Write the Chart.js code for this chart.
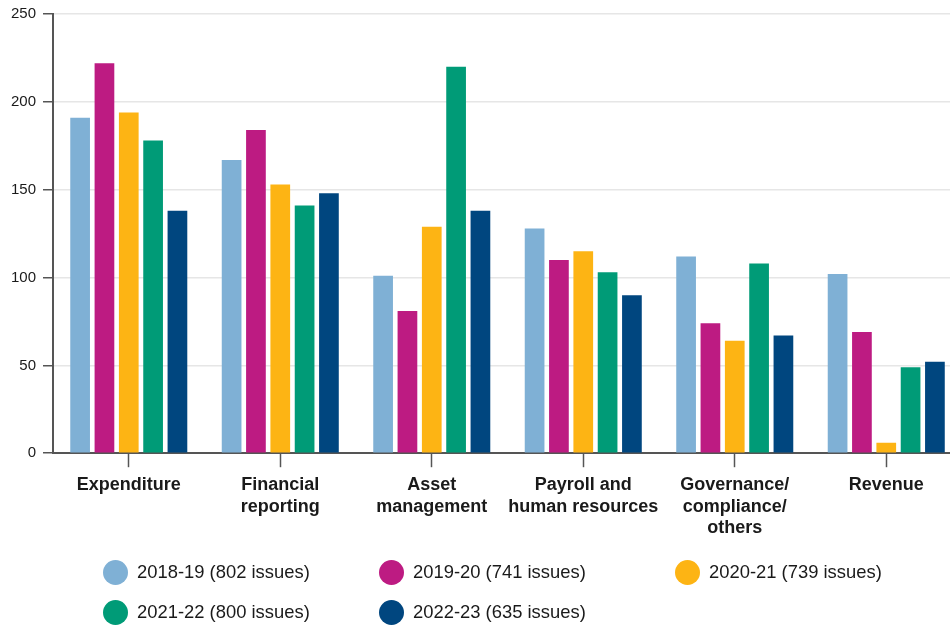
<!DOCTYPE html>
<html>
<head>
<meta charset="utf-8">
<script src="https://cdn.jsdelivr.net/npm/chart.js@4/dist/chart.umd.min.js"></script>
<style>
  html, body { margin:0; padding:0; background:#fff; overflow:hidden; width:950px; height:625px; }
  #wrap { position:absolute; left:0; top:0; width:962px; height:625px; }
  #legend { position:absolute; left:103px; top:552px; font-family:"Liberation Sans", Arial, sans-serif; font-size:18.4px; color:#1a1a1a; }
  .row { display:flex; height:40px; align-items:center; }
  .item { display:flex; align-items:center; }
  .dot { width:25px; height:25px; border-radius:50%; margin-right:9px; flex:none; }
</style>
</head>
<body>
<div id="wrap"><canvas id="c" width="962" height="625"></canvas></div>
<div id="legend"></div>
<script>
const categories = [
  ["Expenditure"],
  ["Financial", "reporting"],
  ["Asset", "management"],
  ["Payroll and", "human resources"],
  ["Governance/", "compliance/", "others"],
  ["Revenue"]
];
const seriesNames = ["2018-19 (802 issues)", "2019-20 (741 issues)", "2020-21 (739 issues)", "2021-22 (800 issues)", "2022-23 (635 issues)"];
const s2018 = [191, 167, 101, 128, 112, 102];
const s2019 = [222, 184, 81, 110, 74, 69];
const s2020 = [194, 153, 129, 115, 64, 6];
const s2021 = [178, 141, 220, 103, 108, 49];
const s2022 = [138, 148, 138, 90, 67, 52];
const yTicks = [0, 50, 100, 150, 200, 250];
const colors = ["#7fb0d5", "#bd1b82", "#fdb414", "#009b77", "#00467f"];

const seriesValues = [s2018, s2019, s2020, s2021, s2022];
const FONT = '"Liberation Sans", Arial, sans-serif';

new Chart(document.getElementById('c'), {
  type: 'bar',
  data: {
    labels: categories,
    datasets: seriesValues.map((v, i) => ({
      label: seriesNames[i],
      data: v,
      backgroundColor: colors[i],
      borderWidth: 0,
      barPercentage: 0.81,
      categoryPercentage: 0.803
    }))
  },
  options: {
    responsive: false,
    animation: false,
    devicePixelRatio: 1,
    layout: { padding: { left: 4, top: 0, right: 0, bottom: 79 } },
    plugins: { legend: { display: false }, tooltip: { enabled: false } },
    scales: {
      x: {
        offset: true,
        grid: { display: true, drawOnChartArea: false, offset: false, tickLength: 14, tickColor: '#555', tickWidth: 1.5 },
        border: { display: true, color: '#555', width: 2 },
        ticks: { color: '#1a1a1a', padding: 7, maxRotation: 0, autoSkip: false, font: { family: FONT, size: 18, weight: 'bold', lineHeight: 1.2 } }
      },
      y: {
        min: 0, max: 250,
        afterBuildTicks: (s) => { s.ticks = yTicks.map(v => ({ value: v })); },
        grid: { color: '#e6e6e6', lineWidth: 1.5, tickLength: 10, tickColor: '#555', tickWidth: 1.5 },
        border: { display: true, color: '#555', width: 2 },
        ticks: { color: '#1a1a1a', padding: 7, font: { family: FONT, size: 15, lineHeight: 0.95 } }
      }
    }
  }
});

// HTML legend laid out in a 3-column grid
const colWidths = [276, 296, 260];
const legend = document.getElementById('legend');
for (let r = 0; r < Math.ceil(seriesNames.length / 3); r++) {
  const row = document.createElement('div');
  row.className = 'row';
  for (let c = 0; c < 3; c++) {
    const i = r * 3 + c;
    if (i >= seriesNames.length) break;
    const item = document.createElement('div');
    item.className = 'item';
    item.style.width = colWidths[c] + 'px';
    const dot = document.createElement('span');
    dot.className = 'dot';
    dot.style.background = colors[i];
    const txt = document.createElement('span');
    txt.textContent = seriesNames[i];
    item.appendChild(dot);
    item.appendChild(txt);
    row.appendChild(item);
  }
  legend.appendChild(row);
}
</script>
</body>
</html>
